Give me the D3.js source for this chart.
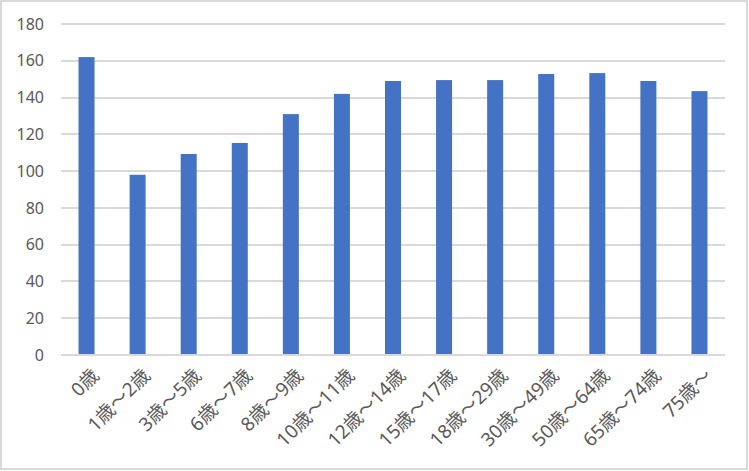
<!DOCTYPE html>
<html><head><meta charset="utf-8">
<script src="https://cdn.jsdelivr.net/npm/d3@7"></script>
<style>
body{margin:0;background:#fff;}
svg text{font-family:"Noto Sans","Noto Sans CJK JP",sans-serif;fill:#595959;}
</style></head>
<body><svg id="c" width="749" height="471"></svg>
<script>
const categories = ["0歳","1歳～2歳","3歳～5歳","6歳～7歳","8歳～9歳","10歳～11歳","12歳～14歳","15歳～17歳","18歳～29歳","30歳～49歳","50歳～64歳","65歳～74歳","75歳～"];
const values = [162, 98, 109.3, 115.3, 131, 142, 149, 149.5, 149.5, 152.8, 153.3, 149, 143.5];
const yTicks = [0,20,40,60,80,100,120,140,160,180];

(function(){
const svg = d3.select("#c");
svg.append("rect").attr("x",1).attr("y",1).attr("width",746).attr("height",468)
  .attr("fill","#fff").attr("stroke","#d9d9d9").attr("stroke-width",2);

const pl=61, pr=725, pt=24, pb=355;
const x = d3.scaleBand().domain(categories).range([pl,pr]).padding(0);
const y = d3.scaleLinear().domain([0,180]).range([pb,pt]);

const grid = svg.append("g");
yTicks.forEach(t=>{
  grid.append("line").attr("x1",pl).attr("x2",pr)
    .attr("y1",Math.round(y(t))).attr("y2",Math.round(y(t)))
    .attr("stroke","#d9d9d9").attr("stroke-width",2);
});

const yAxis = d3.axisLeft(y).tickValues(yTicks).tickSize(0).tickPadding(0);
const ya = svg.append("g").attr("transform",`translate(44,0)`).call(yAxis);
ya.select(".domain").remove();
ya.selectAll("text").style("font-size","16px").attr("fill","#595959");

const bw = 16;
svg.append("g").selectAll("rect").data(values).join("rect")
  .attr("x",(d,i)=>x(categories[i])+x.bandwidth()/2-bw/2)
  .attr("width",bw)
  .attr("y",d=>y(d))
  .attr("height",d=>pb-y(d)-1)
  .attr("fill","#4472c4");

const xa = svg.append("g");
categories.forEach(c=>{
  const cx = x(c)+x.bandwidth()/2;
  xa.append("text").attr("text-anchor","end")
    .attr("transform",`translate(${cx+9},${372}) rotate(-45)`)
    .attr("dy","0.35em")
    .style("font-size","19px").text(c);
});
})();
</script></body></html>
